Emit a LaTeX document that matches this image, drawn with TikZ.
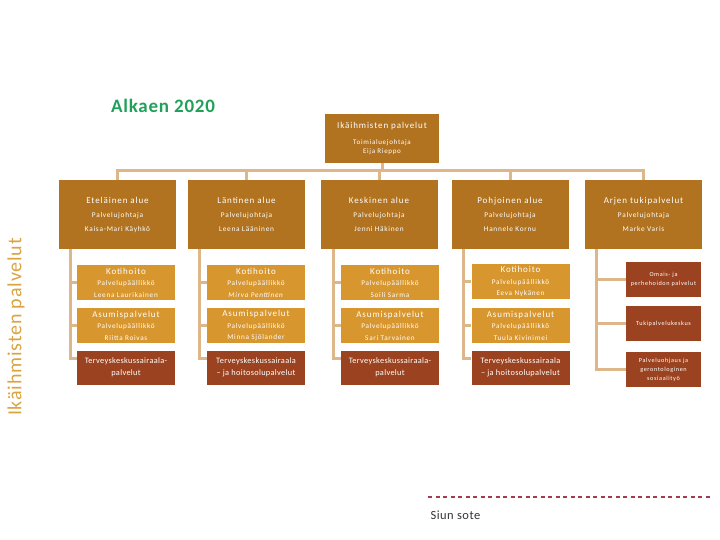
\documentclass[tikz,border=0pt]{standalone}
\usepackage{fontspec}
\setmainfont{Carlito}
\newfontfamily\spA{Carlito}[LetterSpace=10]
\newfontfamily\spB{Carlito}[LetterSpace=4]
\definecolor{hdrc}{HTML}{B1731F}
\definecolor{litec}{HTML}{D8962E}
\definecolor{rustc}{HTML}{9B4320}
\definecolor{connc}{HTML}{DDB68A}
\definecolor{titlec}{HTML}{21A05A}
\definecolor{sidec}{HTML}{D9A441}
\definecolor{dashc}{HTML}{A33B52}
\definecolor{footc}{HTML}{333333}
\begin{document}
\begin{tikzpicture}[x=1pt,y=-1pt,
  base/.style={rectangle, draw=none, inner sep=0pt, text=white, align=center},
  topbox/.style={base, fill=hdrc, minimum width=114pt, minimum height=49pt, font=\spA\fontsize{7}{9.5}\selectfont},
  hdr/.style={base, fill=hdrc, minimum width=117pt, minimum height=69pt, font=\spA\fontsize{7.3}{14}\selectfont},
  lite/.style={base, fill=litec, minimum width=98pt, minimum height=35pt, font=\spA\fontsize{7.2}{11.5}\selectfont},
  rust/.style={base, fill=rustc, minimum width=98pt, minimum height=34pt, font=\spB\fontsize{8.3}{12}\selectfont},
  rsmall/.style={base, fill=rustc, minimum width=75pt, minimum height=35pt, font=\spA\fontsize{6.2}{9}\selectfont},
  conn/.style={draw=connc, line width=3pt, line join=miter}
]
\useasboundingbox (0,0) rectangle (720,540);

% title
\node[text=titlec, font=\spB\fontsize{19}{21}\selectfont\bfseries] (title) at (163,106) {Alkaen 2020};

% side label
\node[text=sidec, rotate=90, font=\spB\fontsize{20}{22}\selectfont] (side) at (16,327) {Ikäihmisten palvelut};

% top box
\node[topbox] (top) at (382,138.5) {{\fontsize{9}{11}\selectfont Ikäihmisten palvelut}\\[6pt]Toimialuejohtaja\\Eija Rieppo};

% header boxes
\node[hdr] (h1) at (117.5,214.5) {{\fontsize{9}{11}\selectfont Eteläinen alue}\\Palvelujohtaja\\Kaisa-Mari Käyhkö};
\node[hdr] (h2) at (246.5,214.5) {{\fontsize{9}{11}\selectfont Läntinen alue}\\Palvelujohtaja\\Leena Lääninen};
\node[hdr] (h3) at (379,214.5) {{\fontsize{9}{11}\selectfont Keskinen alue}\\Palvelujohtaja\\Jenni Häkinen};
\node[hdr] (h4) at (510,214.5) {{\fontsize{9}{11}\selectfont Pohjoinen alue}\\Palvelujohtaja\\Hannele Kornu};
\node[hdr] (h5) at (643.5,214.5) {{\fontsize{9}{11}\selectfont Arjen tukipalvelut}\\Palvelujohtaja\\Marke Varis};

% Kotihoito row
\node[lite] (k1) at (126,282.5) {{\fontsize{9}{11}\selectfont Kotihoito}\\Palvelupäällikkö\\Leena Laurikainen};
\node[lite] (k2) at (256,282.5) {{\fontsize{9}{11}\selectfont Kotihoito}\\Palvelupäällikkö\\\textit{Mirva Penttinen}};
\node[lite] (k3) at (390,282.5) {{\fontsize{9}{11}\selectfont Kotihoito}\\Palvelupäällikkö\\Soili Sarma};
\node[lite] (k4) at (520.5,281.5) {{\fontsize{9}{11}\selectfont Kotihoito}\\Palvelupäällikkö\\Eeva Nykänen};

% Asumispalvelut row
\node[lite] (a1) at (126,325.5) {{\fontsize{9}{11}\selectfont Asumispalvelut}\\Palvelupäällikkö\\Riitta Roivas};
\node[lite] (a2) at (256,325.5) {{\fontsize{9}{11}\selectfont Asumispalvelut}\\Palvelupäällikkö\\Minna Sjölander};
\node[lite] (a3) at (390,325.5) {{\fontsize{9}{11}\selectfont Asumispalvelut}\\Palvelupäällikkö\\Sari Tarvainen};
\node[lite] (a4) at (520.5,325.5) {{\fontsize{9}{11}\selectfont Asumispalvelut}\\Palvelupäällikkö\\Tuula Kivinimei};

% Terveyskeskus row
\node[rust] (t1) at (126,367.5) {Terveyskeskussairaala-\\palvelut};
\node[rust] (t2) at (256,367.5) {Terveyskeskussairaala\\– ja hoitosolupalvelut};
\node[rust] (t3) at (390,367.5) {Terveyskeskussairaala-\\palvelut};
\node[rust] (t4) at (520.5,367.5) {Terveyskeskussairaala\\– ja hoitosolupalvelut};

% column 5
\node[rsmall] (r1) at (663.5,279.5) {Omais- ja\\perhehoidon palvelut};
\node[rsmall] (r2) at (663.5,323.5) {Tukipalvelukeskus};
\node[rsmall] (r3) at (663.5,369.5) {Palveluohjaus ja\\gerontologinen\\sosiaalityö};

% top connectors
\foreach \h in {h1,h2,h3,h4,h5}
  \draw[conn] (\h.north) -- ++(0,-9) -| (top.south);

% spines and branches
\foreach \h/\k/\a/\t/\dx in {h1/k1/a1/t1/12, h2/k2/a2/t2/12, h3/k3/a3/t3/13, h4/k4/a4/t4/12}{
  \draw[conn] ([xshift=\dx pt]\h.south west) |- (\k.west);
  \draw[conn] ([xshift=\dx pt]\h.south west) |- (\a.west);
  \draw[conn] ([xshift=\dx pt]\h.south west) |- ([yshift=9pt]\t.west);
}
\draw[conn] ([xshift=12pt]h5.south west) |- (r1.west);
\draw[conn] ([xshift=12pt]h5.south west) |- (r2.west);
\draw[conn] ([xshift=12pt]h5.south west) |- (r3.west);

% footer
\coordinate (dl) at (428,497);
\coordinate (dr) at (712,497);
\draw[dashc, line width=1.3pt, dash pattern=on 4pt off 3.5pt] (dl) -- (dr);
\node[anchor=west, text=footc, font=\spB\fontsize{12.5}{14}\selectfont] (foot) at (427,515) {Siun sote};
\end{tikzpicture}
\end{document}
